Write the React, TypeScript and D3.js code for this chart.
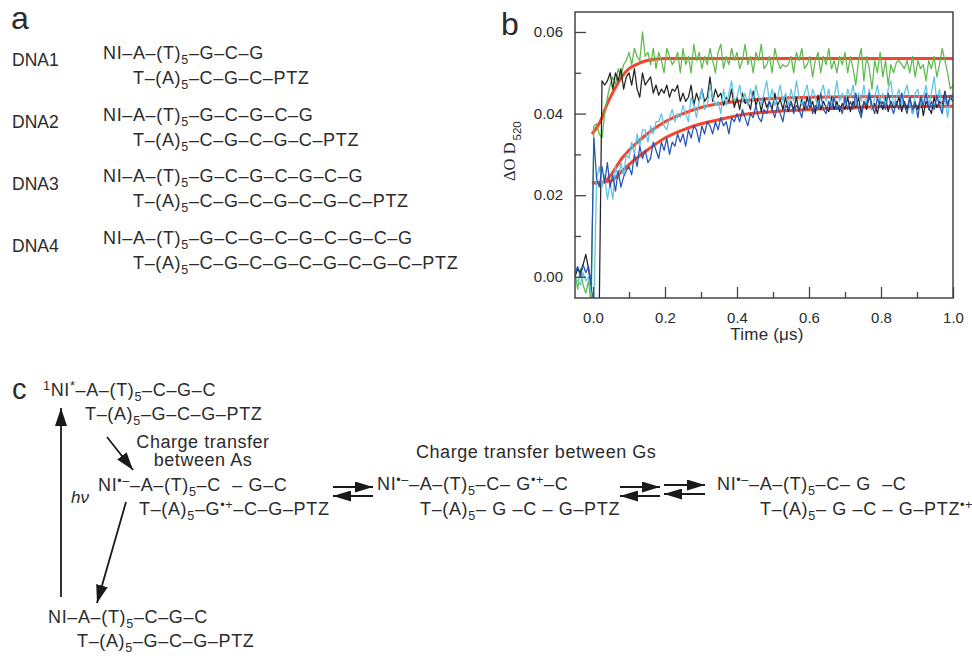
import React, { useEffect, useRef } from 'react';
import { select, scaleLinear, line, curveMonotoneX, axisBottom, axisLeft } from 'd3';

// traces in units of 0.001 OD, evenly spaced from -0.05 to 1.0 us
const greenTrace = [
  1, -3, 2, -2, -4, -1, -7, 37, 37.5, 35, 34, 40, 44, 47, 49, 47, 51, 49, 52, 53,
  55, 52, 56, 54, 53, 60, 54, 55, 52, 56, 51, 55, 53, 50, 56, 54, 52, 53, 55, 50,
  56, 52, 54, 50, 57, 53, 55, 51, 54, 52, 56, 53, 50, 55, 57, 51, 54, 52, 56, 53,
  55, 51, 53, 57, 52, 54, 50, 55, 53, 57, 51, 52, 54, 50, 56, 53, 51, 52, 51.5, 52,
  54, 50, 55, 53, 56, 51, 52, 54, 49, 53, 55, 50, 54, 52, 56, 51, 53, 50, 54, 52,
  55, 50, 54, 51, 47, 53, 56, 48, 54, 51, 46, 53, 50, 55, 49, 53, 47, 52, 50, 52.5,
  53, 52, 51, 53, 50, 54, 49, 53, 51, 52, 48, 53, 51, 54, 49, 52, 56, 53, 50, 46, 47,
];
const blackTrace = [
  0, 2, 1, 3, 5.5, 2, -3, -7, -7, -7, 48, 47, 48, 50, 46, 50, 48, 51, 46, 49,
  50, 47, 51, 46, 44, 50, 47, 48, 49, 45, 47, 44.5, 46, 45, 47, 44, 46, 45.5, 47, 43,
  45, 43, 44, 47, 42, 45, 43, 46, 43, 44, 49, 43, 46, 44, 45, 42, 44, 43, 46, 41.5,
  44, 41, 45, 42.5, 43, 41, 45.5, 42, 44, 40.5, 44, 41.5, 43, 41, 45, 42, 43.5, 41, 44, 40.5,
  43, 41, 44, 40.5, 43.5, 41, 44, 41.5, 43, 40, 44.5, 41, 43, 41.5, 40.5, 44, 41, 43, 40.5, 42.5,
  41, 44, 40.5, 43, 41.5, 44, 40, 43, 41, 44.5, 41, 42.5, 40, 43.5, 41, 44, 40.5, 43, 41.5, 42,
  44, 40.5, 43, 41, 44, 40, 42.5, 41, 44, 39.5, 43, 41.5, 40, 44, 41.5, 43, 42, 45.5, 42, 44, 43,
];
const lightBlueTrace = [
  0, -1, -2, 1, -1, 0, -4, -7, 24, 27, 22, 25, 19, 23, 19, 27, 24, 28, 25, 30,
  29, 33, 30, 35, 32, 36, 36, 33, 37, 35, 38, 38, 40, 37, 36, 39, 41, 38, 40, 39,
  42, 40, 38, 44, 42, 39, 43, 46, 41, 42, 47, 44, 42, 43, 40, 46, 42, 45, 48, 43,
  44, 47, 43, 45, 42, 46, 43, 47, 44, 42, 45, 48, 43, 46, 42, 44, 47, 43, 45, 42,
  46, 43, 48, 44, 42, 45, 47, 42, 46, 44, 41, 45, 47, 43, 46, 42, 44, 48, 43, 45,
  42, 46, 44, 47, 42, 45, 43, 47, 42, 46, 41, 44, 47, 43, 45, 42, 46, 48, 42, 44,
  46, 42, 45, 47, 43, 40, 45, 46, 42, 44, 47, 42, 45, 49, 43, 46, 41, 44, 39, 44, 45,
];
const blueTrace = [
  1, 2.5, 0, 3, 1, 2.5, -2, 34, 24, 22, 27, 23, 28, 22, 25, 21, 26, 22, 24.5, 26,
  27, 25, 30, 27, 32, 29, 31, 28, 29, 33, 31, 29, 33, 31, 34, 30, 33, 32, 35, 33,
  35, 32, 36, 34, 37, 36, 33, 37, 35, 38, 37, 35, 38, 36, 39, 37, 38, 35, 39, 38,
  40, 38, 41, 39, 37, 40, 39, 42, 39, 38, 41, 40, 43, 41, 39, 42, 40, 38, 42, 41,
  43, 40, 42, 41, 39, 43, 41, 44, 40, 42, 41, 45, 41, 40, 43, 41, 44, 41, 42, 40,
  44, 41, 43, 41, 45, 41, 39, 43, 42, 45, 42, 40, 44, 41.5, 43, 41, 45, 42, 40, 43,
  41, 45, 42, 40, 44, 41, 43, 39, 44, 42, 45, 41, 43, 41, 44.5, 42, 40, 45, 42, 44.5, 44,
];

// fitted curves, [time, value]
const fitTop = [[-0.003, 35], [0.02, 38], [0.04, 42.5], [0.06, 46], [0.08, 49], [0.1, 51], [0.12, 52], [0.15, 53], [0.2, 53.5], [1, 53.5]];
const fitMiddle = [[-0.003, 23], [0.03, 23.2], [0.05, 25], [0.08, 29], [0.1, 31], [0.15, 35], [0.2, 38], [0.25, 40], [0.3, 41.5], [0.4, 43], [0.5, 43.7], [0.6, 44], [0.8, 44.2], [1, 44.2]];
const fitBottom = [[-0.003, 23], [0.05, 23.5], [0.07, 25], [0.1, 27.5], [0.15, 31], [0.2, 34], [0.25, 36], [0.3, 37.5], [0.35, 38.5], [0.4, 39.5], [0.5, 40.5], [0.6, 41], [0.8, 41.7], [1, 41.8]];

const xMajor = [0, 0.2, 0.4, 0.6, 0.8, 1];
const xMinor = [0.1, 0.3, 0.5, 0.7, 0.9];
const yMajor = [0, 0.02, 0.04, 0.06];
const yMinor = [0.01, 0.03, 0.05];

const dnaNames = ['DNA1', 'DNA2', 'DNA3', 'DNA4'];
const dnaTop = ['NI–A–(T)_{5}–G–C–G', 'NI–A–(T)_{5}–G–C–G–C–G', 'NI–A–(T)_{5}–G–C–G–C–G–C–G', 'NI–A–(T)_{5}–G–C–G–C–G–C–G–C–G'];
const dnaBottom = ['T–(A)_{5}–C–G–C–PTZ', 'T–(A)_{5}–C–G–C–G–C–PTZ', 'T–(A)_{5}–C–G–C–G–C–G–C–PTZ', 'T–(A)_{5}–C–G–C–G–C–G–C–G–C–PTZ'];

// text, x, baseline
const schemeLines: [string, number, number][] = [
  ['^{1}NI^{*}–A–(T)_{5}–C–G–C', 43, 396],
  ['T–(A)_{5}–G–C–G–PTZ', 85, 420],
  ['NI^{•–}–A–(T)_{5}–C  – G–C', 98, 491],
  ['T–(A)_{5}–G^{•+}–C–G–PTZ', 139, 515],
  ['NI–A–(T)_{5}–C–G–C', 48, 623],
  ['T–(A)_{5}–G–C–G–PTZ', 77, 647],
  ['NI^{•–}–A–(T)_{5}–C– G^{•+}–C', 377, 490],
  ['T–(A)_{5}– G –C – G–PTZ', 420, 515],
  ['NI^{•–}–A–(T)_{5}–C– G  –C', 717, 490],
  ['T–(A)_{5}– G –C – G–PTZ^{•+}', 760, 515],
];

const ink = '#2b2b2b';

const drawMarkup = (parent: any, str: string, x: number, y: number, size: number, spacing: number) => {
  const t = parent.append('text')
    .attr('x', x)
    .attr('y', y)
    .attr('font-size', size)
    .attr('letter-spacing', spacing)
    .attr('fill', ink)
    .style('white-space', 'pre');
  let shift = 0;
  str.split(/([_^]\{[^}]*\})/).filter(s => s.length).forEach(part => {
    const m = part.match(/^([_^])\{(.*)\}$/);
    const target = m ? (m[1] === '_' ? size * 0.3 : -size * 0.34) : 0;
    const span = t.append('tspan')
      .attr('dy', target - shift)
      .text(m ? m[2] : part);
    if (m) span.attr('font-size', size * 0.7);
    shift = target;
  });
};

const drawChart = (node: SVGSVGElement) => {
  const svg = select(node);
  svg.selectAll('*').remove();
  svg.attr('font-family', '"Liberation Sans", Arial, sans-serif');

  const defs = svg.append('defs');
  defs.append('clipPath').attr('id', 'plotClip')
    .append('rect').attr('x', 575).attr('y', 12).attr('width', 378).attr('height', 286);
  defs.append('marker').attr('id', 'head')
    .attr('viewBox', '0 0 18 12').attr('refX', 18).attr('refY', 6)
    .attr('markerUnits', 'userSpaceOnUse')
    .attr('markerWidth', 18).attr('markerHeight', 12).attr('orient', 'auto')
    .append('path').attr('d', 'M0,0L18,6L0,12Z').attr('fill', '#1a1a1a');
  defs.append('marker').attr('id', 'headFlat')
    .attr('viewBox', '0 0 18 11').attr('refX', 18).attr('refY', 5.5)
    .attr('markerUnits', 'userSpaceOnUse')
    .attr('markerWidth', 18).attr('markerHeight', 11).attr('orient', 'auto')
    .append('path').attr('d', 'M0,0L18,5.5L0,11Z').attr('fill', '#1a1a1a');

  // panel letters
  svg.append('text').attr('x', 11).attr('y', 29).attr('font-size', 32).attr('fill', ink).text('a');
  svg.append('text').attr('x', 501).attr('y', 35).attr('font-size', 32).attr('fill', ink).text('b');
  svg.append('text').attr('x', 12).attr('y', 399).attr('font-size', 29).attr('fill', ink).text('c');

  // panel a
  const nameY = [66, 128, 190, 252];
  const topY = [59, 121, 182, 244];
  dnaNames.forEach((name, i) => {
    svg.append('text').attr('x', 12).attr('y', nameY[i]).attr('font-size', 17.5).attr('fill', ink).text(name);
    drawMarkup(svg, dnaTop[i], 103, topY[i], 18, 0.65);
    drawMarkup(svg, dnaBottom[i], 133, topY[i] + 24.5, 18, 0.65);
  });

  // panel b
  const x = scaleLinear().domain([-0.05, 1]).range([575, 953]);
  const y = scaleLinear().domain([-0.0052, 0.0649]).range([298, 12]);

  const xAxisMajor = axisBottom(x).tickValues(xMajor).tickSize(-11).tickPadding(14)
    .tickFormat((d: any) => d.toFixed(1));
  const xAxisMinor = axisBottom(x).tickValues(xMinor).tickSize(-6).tickFormat(() => '');
  const yAxisMajor = axisLeft(y).tickValues(yMajor).tickSize(-11).tickPadding(12)
    .tickFormat((d: any) => d.toFixed(2));
  const yAxisMinor = axisLeft(y).tickValues(yMinor).tickSize(-6).tickFormat(() => '');

  const traces: [number[], string][] = [
    [greenTrace, '#5db94c'],
    [blackTrace, '#232323'],
    [lightBlueTrace, '#5fc3e6'],
    [blueTrace, '#2456b4'],
  ];
  const plot = svg.append('g').attr('clip-path', 'url(#plotClip)');
  const fitLine = line<number[]>()
    .x(d => x(d[0]))
    .y(d => y(d[1] / 1000))
    .curve(curveMonotoneX);
  [fitTop, fitMiddle, fitBottom].forEach(fit => {
    plot.append('path').attr('d', fitLine(fit as number[][]))
      .attr('fill', 'none').attr('stroke', '#f4442c').attr('stroke-width', 3);
  });
  traces.forEach(([values, color]) => {
    const times = scaleLinear().domain([0, values.length - 1]).range([-0.05, 1]);
    const traceLine = line<number>()
      .x((d, i) => x(times(i)))
      .y(d => y(d / 1000));
    plot.append('path').attr('d', traceLine(values))
      .attr('fill', 'none').attr('stroke', color).attr('stroke-width', 1.25)
      .attr('stroke-linejoin', 'round');
  });

  svg.append('rect').attr('x', 575).attr('y', 12).attr('width', 378).attr('height', 286)
    .attr('fill', 'none').attr('stroke', '#444').attr('stroke-width', 1.5);

  [
    [xAxisMajor, 0], [xAxisMinor, 0], [yAxisMajor, 1], [yAxisMinor, 1],
  ].forEach(([axis, isY]: any) => {
    const g = svg.append('g')
      .attr('transform', isY ? 'translate(575,0)' : 'translate(0,298)')
      .call(axis);
    g.select('.domain').remove();
    g.selectAll('line').attr('stroke', '#444').attr('stroke-width', 1.3);
    g.selectAll('text').attr('fill', ink).attr('font-size', 15)
      .attr('font-family', '"Liberation Sans", Arial, sans-serif');
  });

  svg.append('text').attr('x', 767).attr('y', 340).attr('text-anchor', 'middle')
    .attr('font-size', 17).attr('letter-spacing', 0.2).attr('fill', ink).text('Time (μs)');

  const yTitle = svg.append('text')
    .attr('transform', 'translate(515,181) rotate(-90)')
    .attr('font-family', '"Liberation Serif", serif')
    .attr('font-size', 16.5)
    .attr('fill', ink);
  yTitle.append('tspan').text('ΔO D');
  yTitle.append('tspan').attr('dy', 6).attr('dx', 2).attr('font-size', 11.5)
    .attr('font-family', '"Liberation Sans", sans-serif').text('520');

  // panel c
  schemeLines.forEach(([str, px, py]) => drawMarkup(svg, str, px, py, 18, 0.65));

  const caption = (str: string, px: number, py: number, anchor: string) => {
    svg.append('text').attr('x', px).attr('y', py).attr('text-anchor', anchor)
      .attr('font-size', 18).attr('letter-spacing', 0.55).attr('fill', ink).text(str);
  };
  caption('Charge transfer', 203, 448, 'middle');
  caption('between As', 203, 466, 'middle');
  caption('Charge transfer between Gs', 416, 458, 'start');
  svg.append('text').attr('x', 71).attr('y', 503).attr('font-size', 17)
    .attr('font-style', 'italic').attr('fill', ink).text('hν');

  const arrows = [
    [61, 597, 61, 408],
    [107, 437, 133, 470],
    [126, 502, 97, 603],
  ];
  arrows.forEach(([x1, y1, x2, y2]) => {
    svg.append('line').attr('x1', x1).attr('y1', y1).attr('x2', x2).attr('y2', y2)
      .attr('stroke', '#1a1a1a').attr('stroke-width', 1.8).attr('marker-end', 'url(#head)');
  });

  // equilibrium arrow pairs: left, right, upper y, lower y
  const pairs = [[333, 373, 487, 496], [620, 660, 487, 496], [664, 705, 485, 494]];
  pairs.forEach(([l, r, up, low]) => {
    svg.append('line').attr('x1', l).attr('y1', up).attr('x2', r).attr('y2', up)
      .attr('stroke', '#1a1a1a').attr('stroke-width', 2).attr('marker-end', 'url(#headFlat)');
    svg.append('line').attr('x1', r).attr('y1', low).attr('x2', l).attr('y2', low)
      .attr('stroke', '#1a1a1a').attr('stroke-width', 2).attr('marker-end', 'url(#headFlat)');
  });
};

export default function App() {
  const ref = useRef<SVGSVGElement>(null);
  useEffect(() => {
    if (ref.current) drawChart(ref.current);
  }, []);
  return (
    <svg
      ref={ref}
      width={972}
      height={656}
      style={{ position: 'absolute', left: 0, top: 0, background: '#fff' }}
    />
  );
}
